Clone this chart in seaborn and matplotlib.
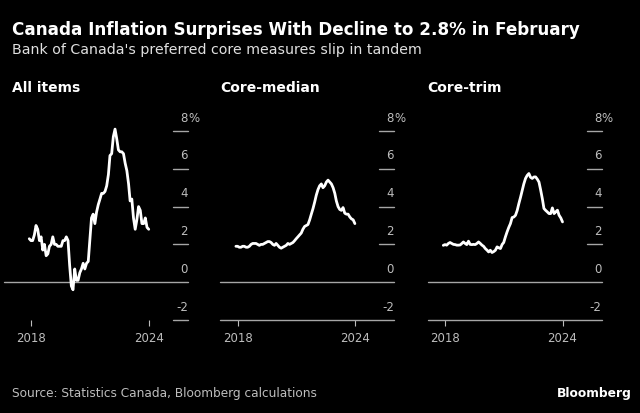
import pandas as pd
import seaborn as sns
import matplotlib.pyplot as plt

# monthly y/y % change, Mar 2018 - Feb 2024
months = pd.date_range('2018-03-01', '2024-02-01', freq='MS')

all_items = [2.3, 2.2, 2.2, 2.5, 3.0, 2.8, 2.2, 2.4, 1.7, 2.0,
             1.4, 1.5, 1.9, 2.0, 2.4, 2.0, 2.0, 1.9, 1.9, 1.9, 2.2, 2.2,
             2.4, 2.2, 0.9, -0.2, -0.4, 0.7, 0.1, 0.1, 0.5, 0.7, 1.0, 0.7,
             1.0, 1.1, 2.2, 3.4, 3.6, 3.1, 3.7, 4.1, 4.4, 4.7, 4.7, 4.8,
             5.1, 5.7, 6.7, 6.8, 7.7, 8.1, 7.6, 7.0, 6.9, 6.9, 6.8, 6.3,
             5.9, 5.2, 4.3, 4.4, 3.4, 2.8, 3.3, 4.0, 3.8, 3.1, 3.1, 3.4,
             2.9, 2.8]

core_median = [1.9, 1.9, 1.85, 1.85, 1.9, 1.9, 1.85, 1.85, 1.9, 2.0, 2.05, 2.05,
               2.05, 2.0, 1.95, 2.0, 2.0, 2.05, 2.1, 2.15, 2.15, 2.1, 2.0, 1.95,
               2.05, 1.95, 1.85, 1.8, 1.85, 1.9, 1.95, 2.05, 2.0, 2.05, 2.1, 2.2,
               2.3, 2.4, 2.5, 2.6, 2.8, 2.95, 3.0, 3.05, 3.3, 3.6, 3.9, 4.25,
               4.6, 4.9, 5.1, 5.2, 5.0, 5.1, 5.3, 5.4, 5.3, 5.2, 5.0, 4.7,
               4.3, 4.0, 3.85, 3.8, 3.95, 3.65, 3.6, 3.6, 3.45, 3.35, 3.3, 3.1]

core_trim = [1.95, 1.99, 1.96, 2.05, 2.1, 2.05, 2.0, 1.99, 1.96, 1.96, 1.97, 2.05,
             2.13, 2.05, 1.99, 2.17, 2.0, 1.99, 2.0, 1.99, 2.05, 2.13, 2.05, 1.96,
             1.9, 1.78, 1.7, 1.6, 1.69, 1.57, 1.62, 1.69, 1.87, 1.82, 1.78, 2.0,
             2.1, 2.4, 2.66, 2.9, 3.1, 3.42, 3.45, 3.54, 3.8, 4.16, 4.5, 4.87,
             5.2, 5.49, 5.65, 5.75, 5.55, 5.49, 5.57, 5.57, 5.45, 5.3, 4.87, 4.4,
             3.9, 3.8, 3.72, 3.63, 3.63, 3.93, 3.63, 3.72, 3.81, 3.54, 3.4, 3.19]

panel_titles = ['All items', 'Core-median', 'Core-trim']
y_ticks = [-2, 0, 2, 4, 6, 8]
x_tick_dates = [pd.Timestamp('2018-04-01'), pd.Timestamp('2024-02-01')]
x_tick_labels = ['2018', '2024']

df = pd.DataFrame({'month': months, 'All items': all_items,
                   'Core-median': core_median, 'Core-trim': core_trim})

sns.set_theme(style='dark')
plt.rcParams['font.family'] = ['DejaVu Sans']

W, H = 640, 413
fig = plt.figure(figsize=(6.4, 4.13), dpi=100, facecolor='black')

# panel placement in pixels: left, right, xlim start
panels = [(4.3, 188.0, '2016-12-04'),
          (220.0, 394.0, '2017-05-16'),
          (427.7, 601.7, '2017-05-22')]
bottom_px, top_px = 320, 112.1

for name, (x0, x1, xstart) in zip(panel_titles, panels):
    ax = fig.add_axes([x0 / W, (H - bottom_px) / H, (x1 - x0) / W, (bottom_px - top_px) / H])
    ax.set_facecolor('black')
    sns.lineplot(data=df, x='month', y=name, ax=ax, color='white', linewidth=2.0)
    ax.set_xlim(pd.Timestamp(xstart), pd.Timestamp('2026-01-12'))
    ax.set_ylim(-2, 9)
    for s in ax.spines.values():
        s.set_visible(False)
    ax.grid(False)
    ax.set_xlabel('')
    ax.set_ylabel('')
    ax.set_yticks([])
    ax.set_xticks(x_tick_dates)
    ax.set_xticklabels(x_tick_labels)
    ax.tick_params(axis='x', colors='#bdbdbd', length=4, width=0.8, pad=5,
                   labelsize=8.5, bottom=True)

    seg = 15 / (x1 - x0)
    for v in y_ticks:
        full = (v == 0) or (v == -2 and name != 'All items')
        ax.axhline(v, xmin=0 if full else 1 - seg, xmax=1,
                   color='#a6a6a6', linewidth=1.0, zorder=1, clip_on=False)
        ax.text(1.0, v + 0.68, str(v), transform=ax.get_yaxis_transform(),
                ha='right', va='center', color='#bdbdbd', fontsize=8.5)
    ax.text(1.0, 8.68, '%', transform=ax.get_yaxis_transform(),
            ha='left', va='center', color='#bdbdbd', fontsize=8.5)

    fig.text((x0 if name != 'All items' else 12) / W, 1 - 88 / H, name,
             color='white', fontsize=10, fontweight='bold', va='center')

fig.text(12 / W, 1 - 30 / H, 'Canada Inflation Surprises With Decline to 2.8% in February',
         color='white', fontsize=12.1, fontweight='bold', va='center')
fig.text(12 / W, 1 - 50 / H, "Bank of Canada's preferred core measures slip in tandem",
         color='#e0e0e0', fontsize=10.2, va='center')
fig.text(12 / W, 1 - 393 / H, 'Source: Statistics Canada, Bloomberg calculations',
         color='#bdbdbd', fontsize=8.75, va='center')
fig.text(632 / W, 1 - 393 / H, 'Bloomberg', color='white', fontsize=8.8,
         fontweight='bold', va='center', ha='right')

fig.savefig('out.png', dpi=100, facecolor='black')
